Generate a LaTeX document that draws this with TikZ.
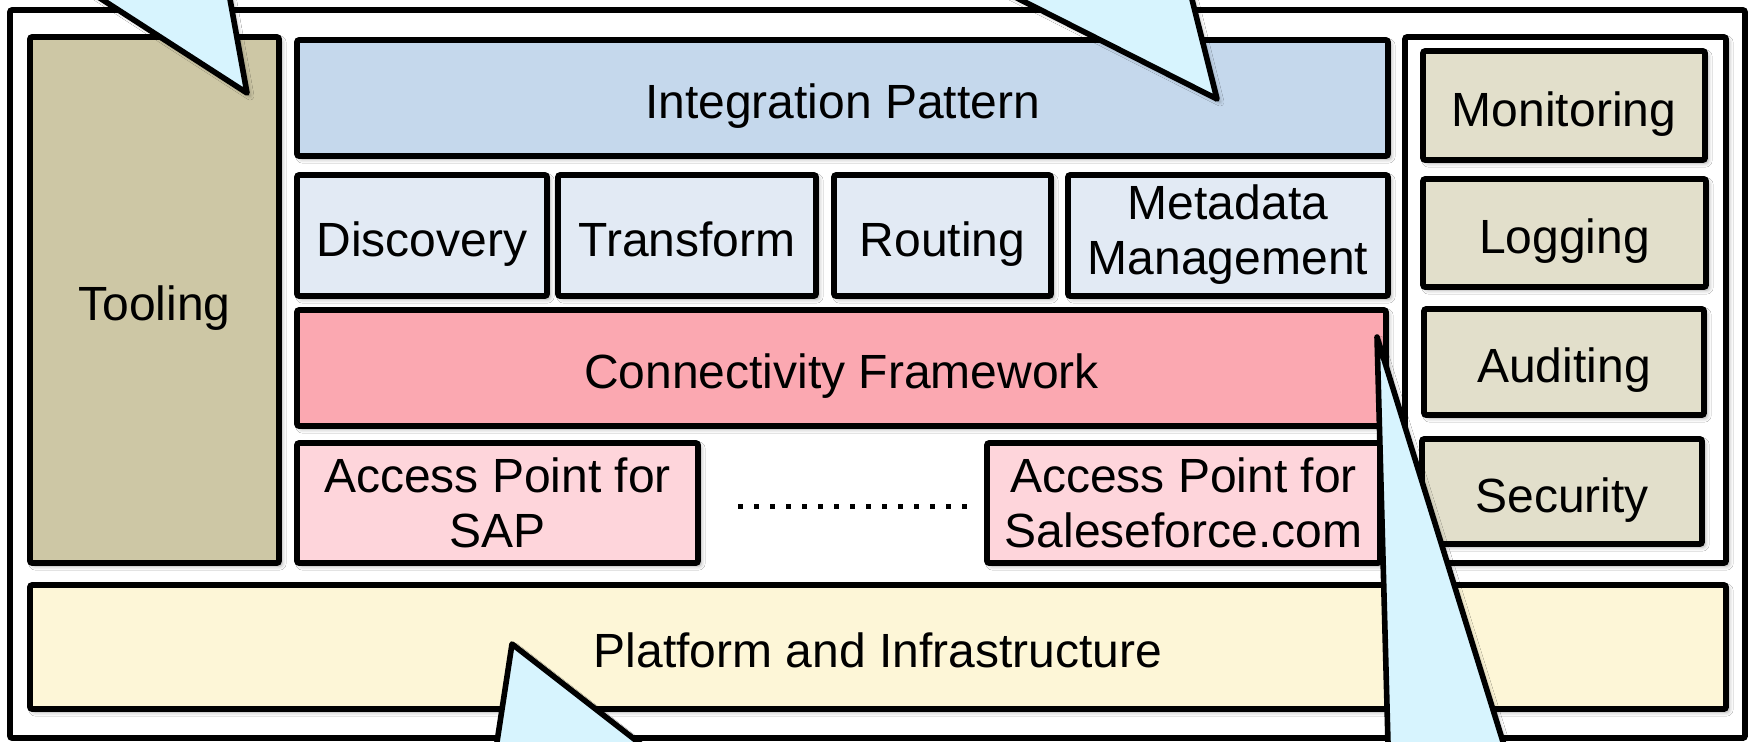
\documentclass[tikz,border=0pt]{standalone}
\usepackage{fontspec}
\setmainfont{Liberation Sans}
\usetikzlibrary{shadows.blur}

\definecolor{toolfill}{HTML}{CDC7A5}
\definecolor{patternfill}{HTML}{C5D8EC}
\definecolor{servicefill}{HTML}{E2EAF4}
\definecolor{connfill}{HTML}{FBA8B1}
\definecolor{accessfill}{HTML}{FED5DB}
\definecolor{mgmtfill}{HTML}{E2DFCB}
\definecolor{platfill}{HTML}{FDF6D7}
\definecolor{calloutfill}{HTML}{D7F4FE}

\tikzset{
  sz/.style 2 args={minimum width=#1*0.5pt, minimum height=#2*0.5pt},
  softshadow/.style={blur shadow={shadow xshift=1.5pt, shadow yshift=-1.5pt,
      shadow blur radius=2pt, shadow opacity=35}},
  box/.style={draw=black, line width=2.8pt, rounded corners=1pt, inner sep=0pt,
      align=center, softshadow,
      font=\fontsize{24}{27.5}\selectfont},
  oneline/.style={text height=20.8pt, text depth=0pt},
  frame/.style={draw=black, line width=2.8pt, rounded corners=1pt, fill=white, inner sep=0pt},
  callout/.style={draw=black, line width=2.8pt, line join=round, fill=calloutfill, softshadow},
  dotline/.style={line width=2.5pt, dash pattern=on 2.5pt off 5.5pt}
}

\begin{document}
\begin{tikzpicture}[x=0.5pt, y=-0.5pt]
  \useasboundingbox (0,0) rectangle (1749,741);
  \fill[white] (0,0) rectangle (1749,741);

  % outer frame and the framed column of cross-cutting concerns
  \node[frame, sz={1735}{728}] (outer) at (877.5,374) {};
  \node[frame, softshadow, sz={321}{526}] (mgmt) at (1565.5,300) {};

  % left column
  \node[box, oneline, fill=toolfill, sz={249}{526}] (tooling) at (154.5,300) {Tooling};

  % integration layers
  \node[box, oneline, fill=patternfill, sz={1091}{116}] (pattern) at (842.5,98) {Integration Pattern};
  \node[box, oneline, fill=servicefill, sz={250}{121}] (discovery) at (422,235.5) {Discovery};
  \node[box, oneline, fill=servicefill, sz={258}{121}] (transform) at (687,235.5) {Transform};
  \node[box, oneline, fill=servicefill, sz={217}{121}] (routing) at (942.5,235.5) {Routing};
  \node[box, fill=servicefill, sz={320}{121}] (metadata) at (1228,235.5)
    {\raisebox{-2.6pt}{\begin{tabular}{@{}c@{}}Metadata\\Management\end{tabular}}};
  \node[box, oneline, fill=connfill, sz={1089}{116}] (conn) at (841.5,368) {Connectivity Framework};
  \node[box, fill=accessfill, sz={401}{120}] (sap) at (497.5,503) {Access Point for\\SAP};
  \node[box, fill=accessfill, sz={393}{120}] (sfdc) at (1183.5,503) {Access Point for\\Saleseforce.com};

  % ellipsis between the access points
  \coordinate (dotsL) at (738,506);
  \coordinate (dotsR) at (968,506);
  \draw[dotline] (dotsL) -- (dotsR);

  % cross-cutting concerns
  \node[box, oneline, fill=mgmtfill, sz={282}{109}] (monitoring) at (1564,105.5) {Monitoring};
  \node[box, oneline, fill=mgmtfill, sz={283}{108}] (logging) at (1564.5,233) {Logging};
  \node[box, oneline, fill=mgmtfill, sz={280}{106}] (auditing) at (1564,362) {Auditing};
  \node[box, oneline, fill=mgmtfill, sz={280}{105}] (security) at (1562,491.5) {Security};

  % platform
  \node[box, oneline, fill=platfill, sz={1696}{124}] (platform) at (878,647) {Platform and Infrastructure};

  % callout pointers entering from outside the frame
  \begin{scope}
    \clip (0,0) rectangle (1749,741);
    \path[callout] (247,93) -- (-52,-100) -- (212,-100) -- cycle;
    \path[callout] (1217,99) -- (823,-100) -- (1167,-100) -- cycle;
    \path[callout] (1377,337) -- (1399,1150) -- (1630,1150) -- cycle;
    \path[callout] (512,644) -- (482,840) -- (764,840) -- cycle;
  \end{scope}
\end{tikzpicture}
\end{document}
